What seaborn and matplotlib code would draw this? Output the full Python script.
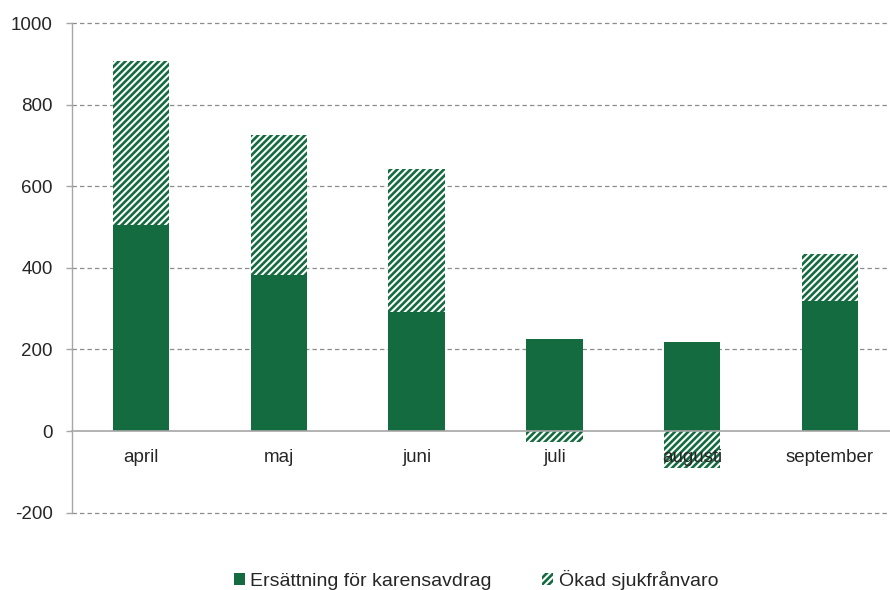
import matplotlib
matplotlib.use("Agg")
import matplotlib.pyplot as plt
import seaborn as sns
import numpy as np
import pandas as pd
from matplotlib.patches import Patch

months = ["april", "maj", "juni", "juli", "augusti", "september"]
ersattning = [505, 383, 292, 225, 218, 318]
okad = [402, 342, 350, -27, -90, 116]
yticks = [-200, 0, 200, 400, 600, 800, 1000]

GREEN = "#146b3f"
GRAY = "#a6a6a6"
TXT = "#262626"

sns.set_theme(style="white")
plt.rcParams["font.family"] = ["Liberation Sans", "DejaVu Sans"]
plt.rcParams["hatch.linewidth"] = 1.9
plt.rcParams["hatch.color"] = GREEN

fig = plt.figure(figsize=(8.9, 5.9), dpi=100)
ax = fig.add_axes([0.081, 0.131, 0.929, 0.830])

# hatched series: stacked on top of solid when positive, below zero when negative
hatch_h = [e + o if o > 0 else o for e, o in zip(ersattning, okad)]
df = pd.DataFrame({"month": months, "ers": ersattning, "hatch": hatch_h})

sns.barplot(data=df, x="month", y="hatch", ax=ax, width=0.41, color="white",
            errorbar=None, saturation=1)
for p in ax.patches:
    p.set_facecolor("white")
    p.set_edgecolor(GREEN)
    p.set_hatch("/////")
    p.set_linewidth(0)
n_h = len(ax.patches)
sns.barplot(data=df, x="month", y="ers", ax=ax, width=0.41, color=GREEN,
            errorbar=None, saturation=1)
for p in ax.patches[n_h:]:
    p.set_linewidth(0)

ax.set_ylim(-200, 1000)
ax.set_xlim(-0.5, 5.5)
ax.set_yticks(yticks)
ax.set_yticklabels([str(v) for v in yticks])
ax.set_xticks(range(len(months)))
ax.set_xticklabels(months)
ax.set_xlabel("")
ax.set_ylabel("")
ax.set_axisbelow(False)

for v in yticks:
    if v != 0:
        ax.axhline(v, color="#8c8c8c", lw=0.9, ls=(0, (3.5, 2.5)), zorder=0,
                   clip_on=False)

for s in ["top", "right"]:
    ax.spines[s].set_visible(False)
ax.spines["left"].set_color(GRAY)
ax.spines["left"].set_linewidth(1)
ax.spines["bottom"].set_position(("data", 0))
ax.spines["bottom"].set_color(GRAY)
ax.spines["bottom"].set_linewidth(1.2)
ax.spines["bottom"].set_zorder(5)
ax.tick_params(axis="y", length=4, width=1, color=GRAY, pad=10, left=True,
               labelsize=13.5, labelcolor=TXT)
ax.tick_params(axis="x", length=0, pad=13, labelsize=13.5, labelcolor=TXT)

handles = [Patch(facecolor=GREEN, edgecolor=GREEN, linewidth=0,
                 label="Ersättning för karensavdrag"),
           Patch(facecolor="white", edgecolor=GREEN, hatch="/////", linewidth=0,
                 label="Ökad sjukfrånvaro")]
fig.legend(handles=handles, loc="lower center", bbox_to_anchor=(0.535, -0.03),
           ncol=2, frameon=False, fontsize=14, handlelength=0.55, handleheight=0.55,
           handletextpad=0.3, columnspacing=2.6, labelcolor=TXT)

fig.savefig("out.png", dpi=100)
